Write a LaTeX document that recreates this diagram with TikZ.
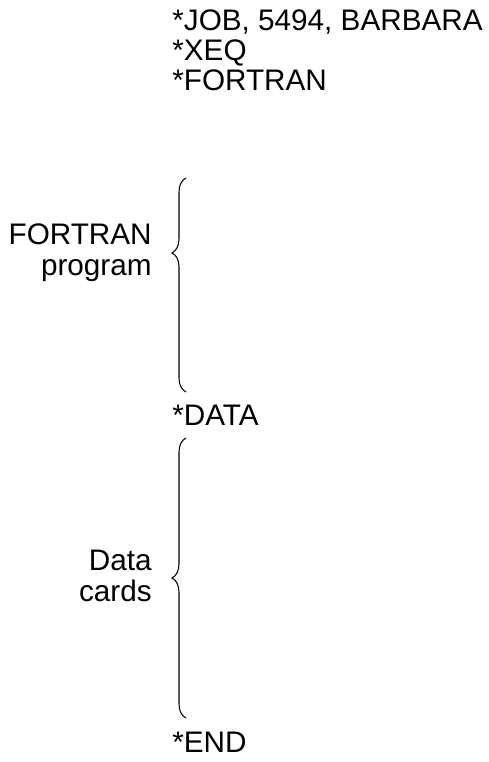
\documentclass[tikz,border=0pt]{standalone}
\usepackage{fontspec}
\setmainfont{Liberation Sans}
\usepackage{tikz}
\usetikzlibrary{positioning}
\usetikzlibrary{decorations.pathreplacing}
\tikzset{
    card/.style={anchor=base west, inner sep=0pt, font=\fontsize{16.9}{17.5}\selectfont},
    cardlabel/.style={anchor=east, inner sep=0pt, align=right, font=\fontsize{16.9}{17.5}\selectfont},
    deckbrace/.style={decorate, decoration={brace, amplitude=2.8mm, aspect=#1}, line width=0.6pt}
}

\begin{document}
\begin{tikzpicture}[x=0.2mm, y=-0.2mm]
        \useasboundingbox (0,0) rectangle (488,762);
        % control cards
        \node[card] (job) at (172,31) {*JOB, 5494, BARBARA};
        \node[card] (xeq) at (172,61) {*XEQ};
        \node[card] (fortran) at (172,91) {*FORTRAN};
        \node[card] (data) at (172,425) {*DATA};
        \node[card] (end) at (172,752) {*END};
        % braces
        \coordinate (progtop) at (186,178);
        \coordinate (progbot) at (186,392);
        \coordinate (datatop) at (186,438);
        \coordinate (databot) at (186,718);
        \draw[deckbrace=0.65] (progbot) -- (progtop);
        \draw[deckbrace=0.5] (databot) -- (datatop);
        \node[cardlabel] (proglabel) at (152,253) {FORTRAN\\program};
        \node[cardlabel] (datalabel) at (152,576) {Data\\cards};
      \end{tikzpicture}
\end{document}
